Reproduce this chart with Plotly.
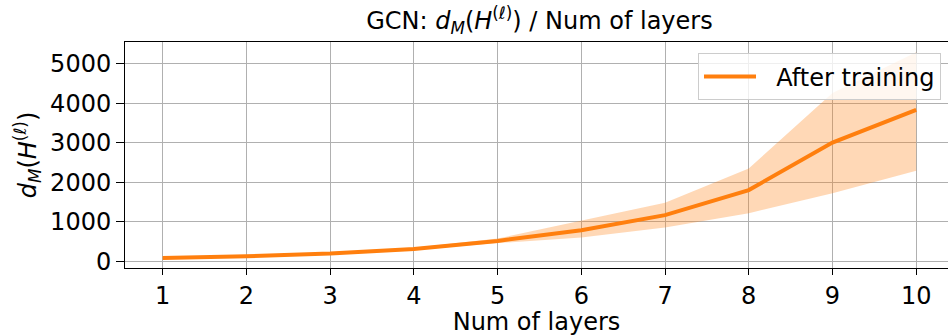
import plotly.graph_objects as go

# Depth sweep for a GCN: mean distance d_M(H^(l)) after training, with spread band
layers = [1, 2, 3, 4, 5, 6, 7, 8, 9, 10]
dm_mean = [85, 127, 195, 310, 515, 787, 1167, 1802, 3003, 3832]
dm_upper = [95, 140, 215, 340, 575, 1020, 1480, 2350, 4260, 5290]
dm_lower = [75, 115, 180, 285, 460, 600, 855, 1215, 1725, 2290]

x_ticks = [1, 2, 3, 4, 5, 6, 7, 8, 9, 10]
y_ticks = [0, 1000, 2000, 3000, 4000, 5000]

ORANGE = "#ff7f0e"
BAND = "rgba(255,127,14,0.3)"
FONT = "DejaVu Sans"

fig = go.Figure()

# spread band (upper edge, then lower edge filled up to it)
fig.add_trace(go.Scatter(
    x=layers, y=dm_upper, mode="lines", line=dict(width=0, color=BAND),
    showlegend=False, hoverinfo="skip"))
fig.add_trace(go.Scatter(
    x=layers, y=dm_lower, mode="lines", line=dict(width=0, color=BAND),
    fill="tonexty", fillcolor=BAND, showlegend=False, hoverinfo="skip"))

# mean curve
fig.add_trace(go.Scatter(
    x=layers, y=dm_mean, mode="lines", name="\u00a0\u00a0After training",
    line=dict(color=ORANGE, width=4)))

fig.update_layout(
    width=948, height=336,
    margin=dict(l=125, r=0, t=42, b=68),
    paper_bgcolor="white", plot_bgcolor="white",
    font=dict(family=FONT, size=24, color="black"),
    title=dict(
        text="GCN: <i>d</i><sub><i>M</i></sub>(<i>H</i><sup>(ℓ)</sup>) / Num of layers",
        x=0.569, xanchor="center", xref="container",
        y=1 - 21 / 336, yanchor="middle", yref="container",
        font=dict(family=FONT, size=24, color="black")),
    legend=dict(
        x=0.9915, xanchor="right", y=0.95, yanchor="top",
        bgcolor="rgba(255,255,255,0.8)", bordercolor="#cccccc", borderwidth=1,
        font=dict(family=FONT, size=24, color="black"),
        itemwidth=52),
    showlegend=True,
)

fig.update_xaxes(
    range=[0.55, 10.38], tickvals=x_ticks, ticktext=[str(v) for v in x_ticks],
    showgrid=True, gridcolor="#b0b0b0", gridwidth=1,
    showline=True, linecolor="black", linewidth=1, mirror=True,
    ticks="outside", ticklen=6, tickcolor="black",
    zeroline=False,
    title=dict(text="Num of layers", standoff=8,
               font=dict(family=FONT, size=24)),
)
fig.update_yaxes(
    range=[-170, 5550], tickvals=y_ticks, ticktext=[str(v) for v in y_ticks],
    showgrid=True, gridcolor="#b0b0b0", gridwidth=1,
    showline=True, linecolor="black", linewidth=1, mirror=False,
    ticks="outside", ticklen=8, tickcolor="black",
    zeroline=False,
    title=dict(text="<i>d</i><sub><i>M</i></sub>(<i>H</i><sup>(ℓ)</sup>)",
               standoff=6, font=dict(family=FONT, size=24)),
)

fig.write_html("out.html")
